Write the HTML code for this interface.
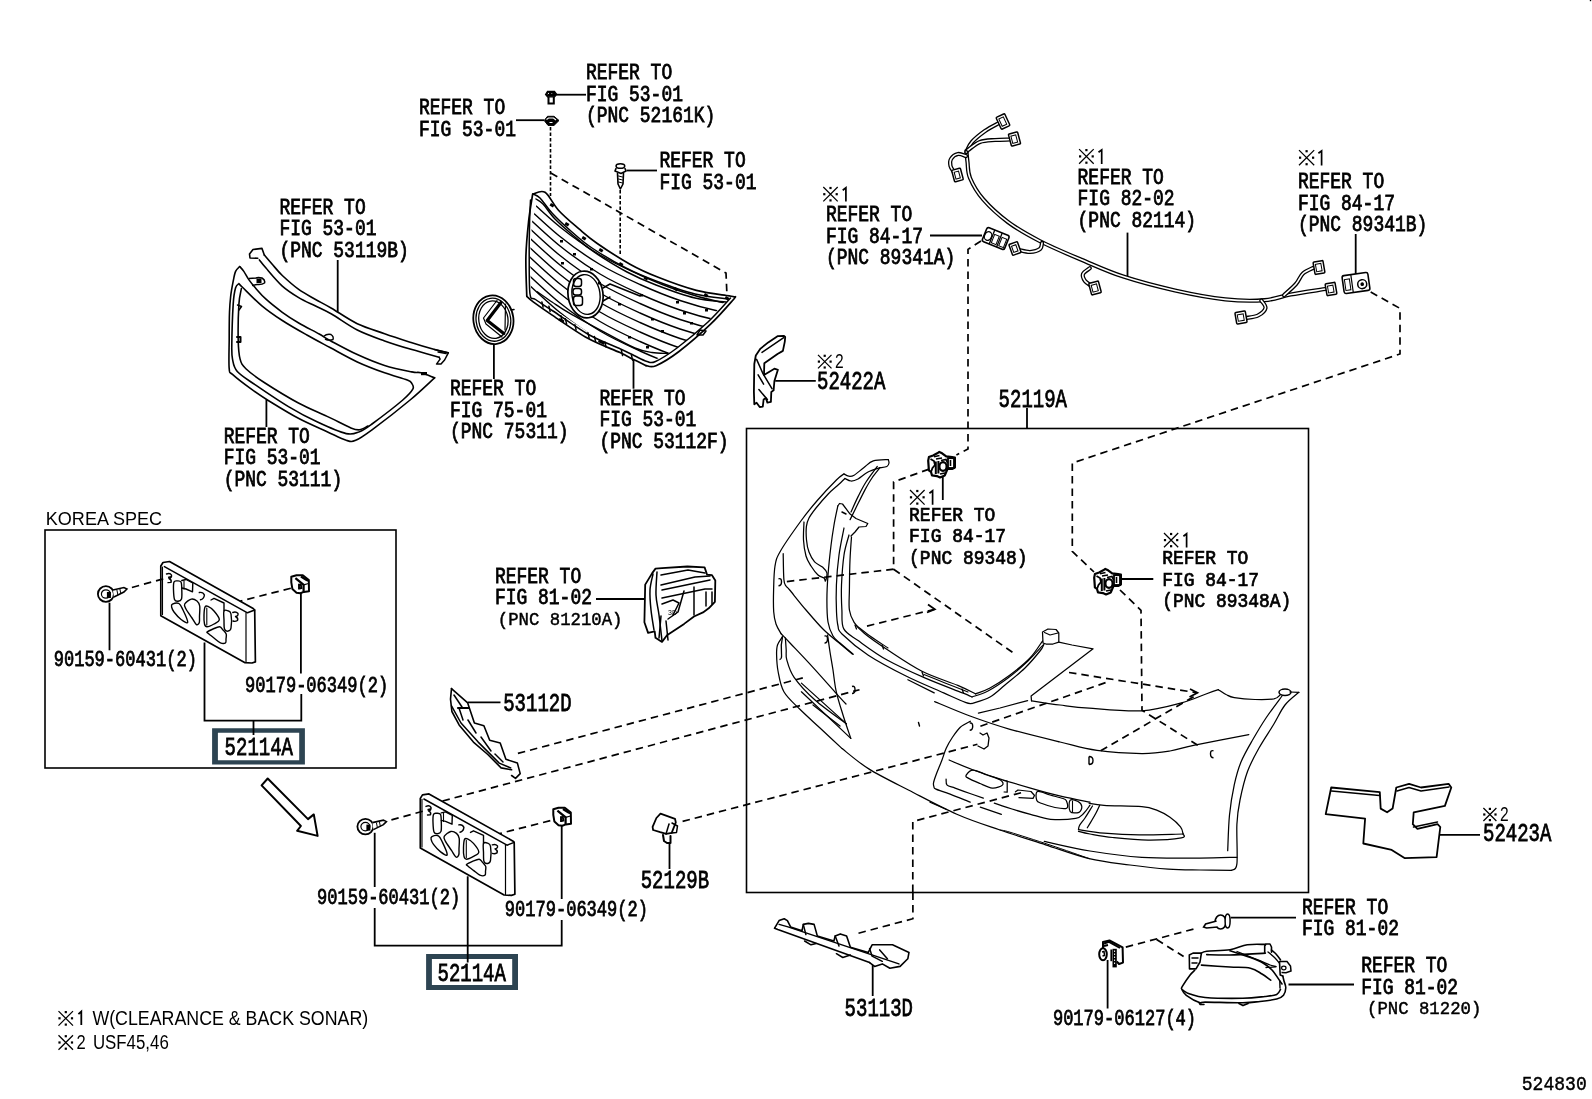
<!DOCTYPE html>
<html><head><meta charset="utf-8"><style>
html,body{margin:0;padding:0;background:#fff;overflow:hidden;width:1592px;height:1099px;}
svg{display:block;will-change:transform;}
.t{font-family:"Liberation Mono",monospace;fill:#000;stroke:#000;stroke-width:0.8px;}
.s{font-family:"Liberation Mono",monospace;fill:#000;stroke:#000;stroke-width:0.45px;}
.s2{font-family:"Liberation Mono",monospace;fill:#000;stroke:#000;stroke-width:0.45px;}
.kn{font-family:"Liberation Sans",sans-serif;fill:#000;}
.ks{font-family:"Liberation Sans",sans-serif;fill:#000;}
.ln{fill:none;stroke:#000;stroke-width:1.8;}
.ds{fill:none;stroke:#000;stroke-width:1.7;stroke-dasharray:7.5 5;}
.pt{fill:none;stroke:#000;stroke-width:1.5;stroke-linejoin:round;stroke-linecap:round;}
</style></head><body>
<svg width="1592" height="1099" viewBox="0 0 1592 1099">
<rect width="1592" height="1099" fill="#fff"/>
<text class="t" transform="translate(586.0,79.0) scale(0.835,1.000)" font-size="21.5"><tspan x="0" y="0">REFER TO</tspan><tspan x="0" dy="21.6">FIG 53-01</tspan><tspan x="0" dy="21.6">(PNC 52161K)</tspan></text>
<text class="t" transform="translate(419.0,114.0) scale(0.835,1.000)" font-size="21.5"><tspan x="0" y="0">REFER TO</tspan><tspan x="0" dy="21.6">FIG 53-01</tspan></text>
<text class="t" transform="translate(659.5,167.0) scale(0.835,1.000)" font-size="21.5"><tspan x="0" y="0">REFER TO</tspan><tspan x="0" dy="21.6">FIG 53-01</tspan></text>
<text class="t" transform="translate(279.5,213.7) scale(0.835,1.000)" font-size="21.5"><tspan x="0" y="0">REFER TO</tspan><tspan x="0" dy="21.6">FIG 53-01</tspan><tspan x="0" dy="21.6">(PNC 53119B)</tspan></text>
<text class="t" transform="translate(223.7,442.5) scale(0.835,1.000)" font-size="21.5"><tspan x="0" y="0">REFER TO</tspan><tspan x="0" dy="21.6">FIG 53-01</tspan><tspan x="0" dy="21.6">(PNC 53111)</tspan></text>
<text class="t" transform="translate(450.0,395.2) scale(0.835,1.000)" font-size="21.5"><tspan x="0" y="0">REFER TO</tspan><tspan x="0" dy="21.6">FIG 75-01</tspan><tspan x="0" dy="21.6">(PNC 75311)</tspan></text>
<text class="t" transform="translate(599.4,404.5) scale(0.835,1.000)" font-size="21.5"><tspan x="0" y="0">REFER TO</tspan><tspan x="0" dy="21.6">FIG 53-01</tspan><tspan x="0" dy="21.6">(PNC 53112F)</tspan></text>
<text class="t" transform="translate(826.0,221.0) scale(0.835,1.000)" font-size="21.5"><tspan x="0" y="0">REFER TO</tspan><tspan x="0" dy="21.6">FIG 84-17</tspan><tspan x="0" dy="21.6">(PNC 89341A)</tspan></text>
<text class="t" transform="translate(1077.6,183.7) scale(0.835,1.000)" font-size="21.5"><tspan x="0" y="0">REFER TO</tspan><tspan x="0" dy="21.6">FIG 82-02</tspan><tspan x="0" dy="21.6">(PNC 82114)</tspan></text>
<text class="t" transform="translate(1298.0,188.0) scale(0.835,1.000)" font-size="21.5"><tspan x="0" y="0">REFER TO</tspan><tspan x="0" dy="21.6">FIG 84-17</tspan><tspan x="0" dy="21.6">(PNC 89341B)</tspan></text>
<text class="t" transform="translate(909.1,520.6) scale(0.835,0.920)" font-size="21.5"><tspan x="0" y="0">REFER TO</tspan><tspan x="0" dy="23.5">FIG 84-17</tspan><tspan x="0" dy="23.5">(PNC 89348)</tspan></text>
<text class="t" transform="translate(1162.2,563.9) scale(0.835,0.920)" font-size="21.5"><tspan x="0" y="0">REFER TO</tspan><tspan x="0" dy="23.5">FIG 84-17</tspan><tspan x="0" dy="23.5">(PNC 89348A)</tspan></text>
<text class="t" transform="translate(495.0,582.8) scale(0.835,1.000)" font-size="21.5"><tspan x="0" y="0">REFER TO</tspan><tspan x="0" dy="21.6">FIG 81-02</tspan></text>
<text class="t" transform="translate(1302.0,913.8) scale(0.835,1.000)" font-size="21.5"><tspan x="0" y="0">REFER TO</tspan><tspan x="0" dy="21.6">FIG 81-02</tspan></text>
<text class="t" transform="translate(1361.2,972.3) scale(0.835,1.000)" font-size="21.5"><tspan x="0" y="0">REFER TO</tspan><tspan x="0" dy="21.6">FIG 81-02</tspan></text>
<path d="M823.3 187.0L837.7 201.4M837.7 187.0L823.3 201.4" stroke="#000" stroke-width="1.25" fill="none"/><rect x="829.4" y="186.9" width="2.2" height="2.2" fill="#000"/><rect x="829.4" y="199.3" width="2.2" height="2.2" fill="#000"/><rect x="823.2" y="193.1" width="2.2" height="2.2" fill="#000"/><rect x="835.6" y="193.1" width="2.2" height="2.2" fill="#000"/><path d="M842.7 190.2L845.9 187.8L845.9 201.6" stroke="#000" stroke-width="1.7" fill="none"/>
<path d="M1079.1 149.1L1093.7 163.7M1093.7 149.1L1079.1 163.7" stroke="#000" stroke-width="1.25" fill="none"/><rect x="1085.3" y="149.0" width="2.2" height="2.2" fill="#000"/><rect x="1085.3" y="161.6" width="2.2" height="2.2" fill="#000"/><rect x="1079.0" y="155.3" width="2.2" height="2.2" fill="#000"/><rect x="1091.6" y="155.3" width="2.2" height="2.2" fill="#000"/><path d="M1098.5 152.3L1101.7 149.9L1101.7 163.9" stroke="#000" stroke-width="1.7" fill="none"/>
<path d="M1299.0 150.1L1314.2 165.3M1314.2 150.1L1299.0 165.3" stroke="#000" stroke-width="1.25" fill="none"/><rect x="1305.5" y="150.1" width="2.2" height="2.2" fill="#000"/><rect x="1305.5" y="163.1" width="2.2" height="2.2" fill="#000"/><rect x="1299.0" y="156.6" width="2.2" height="2.2" fill="#000"/><rect x="1312.0" y="156.6" width="2.2" height="2.2" fill="#000"/><path d="M1318.4 153.3L1321.6 150.9L1321.6 165.5" stroke="#000" stroke-width="1.7" fill="none"/>
<path d="M910.0 490.0L924.6 504.6M924.6 490.0L910.0 504.6" stroke="#000" stroke-width="1.25" fill="none"/><rect x="916.2" y="489.9" width="2.2" height="2.2" fill="#000"/><rect x="916.2" y="502.5" width="2.2" height="2.2" fill="#000"/><rect x="909.9" y="496.2" width="2.2" height="2.2" fill="#000"/><rect x="922.5" y="496.2" width="2.2" height="2.2" fill="#000"/><path d="M929.4 493.2L932.6 490.8L932.6 504.8" stroke="#000" stroke-width="1.7" fill="none"/>
<path d="M1164.0 533.0L1178.2 547.2M1178.2 533.0L1164.0 547.2" stroke="#000" stroke-width="1.25" fill="none"/><rect x="1170.0" y="532.9" width="2.2" height="2.2" fill="#000"/><rect x="1170.0" y="545.1" width="2.2" height="2.2" fill="#000"/><rect x="1163.9" y="539.0" width="2.2" height="2.2" fill="#000"/><rect x="1176.1" y="539.0" width="2.2" height="2.2" fill="#000"/><path d="M1183.4 536.2L1186.6 533.8L1186.6 547.4" stroke="#000" stroke-width="1.7" fill="none"/>
<path d="M818.0 354.9L831.5 368.4M831.5 354.9L818.0 368.4" stroke="#000" stroke-width="1.25" fill="none"/><rect x="823.6" y="354.7" width="2.2" height="2.2" fill="#000"/><rect x="823.6" y="366.4" width="2.2" height="2.2" fill="#000"/><rect x="817.8" y="360.5" width="2.2" height="2.2" fill="#000"/><rect x="829.5" y="360.5" width="2.2" height="2.2" fill="#000"/><text class="kn" x="835.0" y="368.1" font-size="19.5" transform="translate(835.0,0) scale(0.8,1) translate(-835.0,0)">2</text>
<path d="M1483.4 808.0L1496.4 821.0M1496.4 808.0L1483.4 821.0" stroke="#000" stroke-width="1.25" fill="none"/><rect x="1488.8" y="807.8" width="2.2" height="2.2" fill="#000"/><rect x="1488.8" y="819.0" width="2.2" height="2.2" fill="#000"/><rect x="1483.2" y="813.4" width="2.2" height="2.2" fill="#000"/><rect x="1494.4" y="813.4" width="2.2" height="2.2" fill="#000"/><text class="kn" x="1499.9" y="820.7" font-size="19.5" transform="translate(1499.9,0) scale(0.8,1) translate(-1499.9,0)">2</text>
<text class="t" transform="translate(817.0,388.8) scale(0.745,1.000)" font-size="25.5"><tspan x="0" y="0">52422A</tspan></text>
<text class="t" transform="translate(998.6,406.9) scale(0.745,1.000)" font-size="25.5"><tspan x="0" y="0">52119A</tspan></text>
<text class="t" transform="translate(503.2,710.5) scale(0.745,1.000)" font-size="25.5"><tspan x="0" y="0">53112D</tspan></text>
<text class="t" transform="translate(640.7,888.2) scale(0.745,1.000)" font-size="25.5"><tspan x="0" y="0">52129B</tspan></text>
<text class="t" transform="translate(844.6,1016.1) scale(0.745,1.000)" font-size="25.5"><tspan x="0" y="0">53113D</tspan></text>
<text class="t" transform="translate(1483.0,841.0) scale(0.745,1.000)" font-size="25.5"><tspan x="0" y="0">52423A</tspan></text>
<text class="t" transform="translate(224.6,754.7) scale(0.745,1.000)" font-size="25.5"><tspan x="0" y="0">52114A</tspan></text>
<text class="t" transform="translate(437.5,980.5) scale(0.745,1.000)" font-size="25.5"><tspan x="0" y="0">52114A</tspan></text>
<text class="t" transform="translate(53.7,665.6) scale(0.775,1.000)" font-size="22.0"><tspan x="0" y="0">90159-60431(2)</tspan></text>
<text class="t" transform="translate(245.0,692.3) scale(0.775,1.000)" font-size="22.0"><tspan x="0" y="0">90179-06349(2)</tspan></text>
<text class="t" transform="translate(317.0,904.0) scale(0.775,1.000)" font-size="22.0"><tspan x="0" y="0">90159-60431(2)</tspan></text>
<text class="t" transform="translate(504.8,915.9) scale(0.775,1.000)" font-size="22.0"><tspan x="0" y="0">90179-06349(2)</tspan></text>
<text class="t" transform="translate(1052.9,1025.2) scale(0.775,1.000)" font-size="22.0"><tspan x="0" y="0">90179-06127(4)</tspan></text>
<text class="s" transform="translate(497.8,625.3) scale(0.990,1.000)" font-size="17.5"><tspan x="0" y="0">(PNC 81210A)</tspan></text>
<text class="s" transform="translate(1367.0,1014.2) scale(0.990,1.000)" font-size="17.5"><tspan x="0" y="0">(PNC 81220)</tspan></text>
<text class="s2" transform="translate(1521.8,1089.8) scale(0.880,1.000)" font-size="20.5"><tspan x="0" y="0">524830</tspan></text>
<text class="ks" x="0" y="0" font-size="19.2" transform="translate(45.8,524.7) scale(0.940,1)">KOREA SPEC</text>
<path d="M58.5 1011.1L73.0 1025.6M73.0 1011.1L58.5 1025.6" stroke="#000" stroke-width="1.25" fill="none"/><rect x="64.7" y="1011.0" width="2.2" height="2.2" fill="#000"/><rect x="64.7" y="1023.5" width="2.2" height="2.2" fill="#000"/><rect x="58.4" y="1017.2" width="2.2" height="2.2" fill="#000"/><rect x="70.9" y="1017.2" width="2.2" height="2.2" fill="#000"/>
<path d="M78.4 1014.2L81.3 1011.5L81.3 1025" stroke="#000" stroke-width="1.8" fill="none"/>
<text class="ks" x="0" y="0" font-size="19.5" transform="translate(92.4,1024.9) scale(0.913,1)">W(CLEARANCE &amp; BACK SONAR)</text>
<path d="M58.5 1035.2L73.0 1049.7M73.0 1035.2L58.5 1049.7" stroke="#000" stroke-width="1.25" fill="none"/><rect x="64.7" y="1035.1" width="2.2" height="2.2" fill="#000"/><rect x="64.7" y="1047.6" width="2.2" height="2.2" fill="#000"/><rect x="58.4" y="1041.4" width="2.2" height="2.2" fill="#000"/><rect x="70.9" y="1041.4" width="2.2" height="2.2" fill="#000"/>
<text class="ks" x="0" y="0" font-size="19.5" transform="translate(76.6,1049.1) scale(0.850,1)">2</text>
<text class="ks" x="0" y="0" font-size="19.5" transform="translate(92.9,1049.1) scale(0.865,1)">USF45,46</text>
<path class="ln" d="M556.6 94.7 L586 94.7"/>
<path class="ln" d="M516 120.2 L544 120.2"/>
<path class="ln" d="M626.6 170.5 L657 170.5"/>
<path class="ln" d="M337.7 260 L337.7 312"/>
<path class="ln" d="M266.4 399.7 L266.4 427"/>
<path class="ln" d="M493.9 344 L493.9 379"/>
<path class="ln" d="M633.5 359.5 L633.5 388.7"/>
<path class="ln" d="M930 235.5 L982 235.5"/>
<path class="ln" d="M1127.5 232.6 L1127.5 276.6"/>
<path class="ln" d="M1355.7 234 L1355.7 274"/>
<path class="ln" d="M775.2 380.8 L815.8 380.8"/>
<path class="ln" d="M1027 408 L1027 428"/>
<path class="ln" d="M942.8 475.5 L942.8 500"/>
<path class="ln" d="M1120.2 579 L1153.3 579"/>
<path class="ln" d="M596 599 L645 599"/>
<path class="ln" d="M467.7 702.4 L500.5 702.4"/>
<path class="ln" d="M1439.4 834.8 L1480 834.8"/>
<path class="ln" d="M669.5 843.7 L669.5 869"/>
<path class="ln" d="M872.7 965 L872.7 996"/>
<path class="ln" d="M1230.7 917.6 L1296 917.6"/>
<path class="ln" d="M1288.5 984.5 L1354 984.5"/>
<path class="ln" d="M1107.6 960 L1107.6 1008.5"/>
<path class="ln" d="M109.5 602.7 L109.5 650.3"/>
<path class="ln" d="M300.9 592.6 L300.9 673.5"/>
<path class="ln" d="M204.5 642.6 L204.5 720.6 L301.3 720.6 L301.3 694"/>
<path class="ln" d="M374.7 832.8 L374.7 887"/>
<path class="ln" d="M374.7 908 L374.7 945.7 L561.7 945.7 L561.7 920"/>
<path class="ln" d="M561.7 822 L561.7 899"/>
<path class="ds" d="M550.8 173 L726 273 L727 296"/>
<path class="ds" d="M981 241 L968 249.4 L968 449 L956.4 455"/>
<path class="ds" d="M929.1 469.1 L893.6 481.9 L893.6 569.2 L782 582.1"/>
<path class="ds" d="M893.6 569.2 L1016.3 655"/>
<path class="ds" d="M867 626.1 L934.8 609.2"/>
<path class="ds" d="M1370.7 292 L1400 308.4 L1400 354 L1072.3 463 L1072.3 551.4 L1094 572"/>
<path class="ds" d="M1120 590 L1141 610.4 L1142 710.3 L1201 747.3"/>
<path class="ds" d="M517.9 753.4 L802.8 677.9"/>
<path class="ds" d="M442.5 801 L859.5 689.7"/>
<path class="ds" d="M682.6 821.4 L977.4 744.3"/>
<path class="ds" d="M980.4 726.2 L1109.5 681.3"/>
<path class="ds" d="M1069 672.5 L1197.4 692.8"/>
<path class="ds" d="M1100.7 750.8 L1197.4 694.5"/>
<path class="ds" d="M912.8 892 L912.8 821.5 L1022.3 792.4"/>
<path class="ds" d="M912.9 892.5 L912.9 918.7 L855.5 934"/>
<path class="ds" d="M131.9 587.5 L170.9 576.7"/>
<path class="ds" d="M290.8 588.2 L240.2 601.2"/>
<path class="ds" d="M391.4 819.9 L430.4 809.1"/>
<path class="ds" d="M550.3 820.6 L499.7 833.6"/>
<path class="ds" d="M1125.8 947.1 L1196.8 928.2"/>
<path class="ds" d="M1156.6 939.5 L1183.6 956.5"/>
<path class="ds" d="M550.5 127 L550.5 196" style="stroke-dasharray:3.5 2;stroke-width:1.6"/>
<path class="ds" d="M620.2 190 L620.2 256" style="stroke-dasharray:3.5 2;stroke-width:1.6"/>
<path class="ln" d="M928 604.5 L934.8 609.2 L927 612.5"/>
<path class="ln" d="M1190 689 L1197.4 692.8 L1189.5 697"/>
<path class="pt" d="M267.7 778.5 L261.6 785.4 L300.9 826 L297.1 830.8 L317.6 835.9 L313.8 814.4 L308 819.1Z" style="stroke-width:2"/>
<path class="pt" d="M1331.2 787.5 L1379.8 792.1 L1380.7 808.6 L1387.1 812.3 L1392.6 808.6 L1396.3 787.5 L1409.1 783.8 L1421 787.5 L1448.6 783.8 L1451.3 787.5 L1444.9 805.9 L1413.7 812.3 L1412.8 824.2 L1417.4 828.8 L1437.6 824.2 L1440.3 827 L1436.6 857.2 L1404.5 858.1 L1391.7 849.9 L1363.3 843.5 L1365.1 818.7 L1325.7 814.1Z" style="stroke-width:1.8"/>
<path class="pt" d="M1331.5 791 L1379.5 795.5"/>
<path class="pt" d="M1397 791 L1409 787.5 L1421 791 L1449 787"/>
<path class="pt" d="M1413.5 827 L1437.5 822"/>
<path class="pt" d="M754.3 364 L755.8 355.5 L760.5 348.6 L768.2 342.4 L777.5 336.2 L783.7 335.8 L785.2 337 L784.8 341.6 L782.9 350.9 L777.5 354 L764.3 363.3 L764 374.9 L774.4 368.7 L777.9 369.8 L774.4 381 L773.6 390.3 L771.3 391.9 L770.9 401.9 L767.4 402.7 L765.9 398.1 L763.6 399.6 L762.8 406.6 L759.7 407 L756.6 402.7 L754.3 404.2 L753.9 391.9Z" style="stroke-width:1.8"/>
<path class="pt" d="M756.6 359.4 L762.8 373.3 L772.1 388.8"/>
<path class="pt" d="M758.1 374.9 L763.6 384.1"/>
<path class="pt" d="M758.9 389.6 L767.4 399.6"/>
<path class="pt" d="M762 352.4 L783.7 337.7"/>
<defs><clipPath id="gclip"><path d="M537 203 L548 205 L562 220 L581 236 L599 250 L632 270 L660 283 L697 295 L726 300 L706 324 L676 349 L655 360 L647 360 L620 347 L588 332 L553 309 L537 298 L531 292 L530 256 L532 222Z"/></clipPath></defs>
<path class="pt" d="M533 194C535 193.7 540.7 189.6 545 192.3C549.3 195.1 553.1 204.4 558.7 210.5C564.3 216.6 572.3 223.2 578.7 228.7C585.1 234.1 588.4 237.3 596.9 243.2C605.4 249.1 619.8 258.5 630 264.2C640.2 269.9 647.1 272.9 658.2 277.3C669.3 281.7 684.6 287.3 696.4 290.4C708.2 293.5 722.8 294.8 729.2 295.9C735.6 297 733.7 296.8 734.6 297" style="stroke-width:1.7"/>
<path class="pt" d="M734.6 297C734.4 297.4 737.5 295 733.5 299.5C729.5 304 719.7 315.5 710.6 324.2C701.5 332.9 688.1 344.6 679 351.5C669.9 358.4 661.5 363.3 656 365.7C650.5 368.1 647.8 365.7 646.2 365.7" style="stroke-width:1.7"/>
<path class="pt" d="M646.2 365.7C644 364.6 637.4 361.4 633 359.2C628.6 357 627.5 356.1 620 352.6C612.5 349.1 599.2 344.6 587.8 338.3C576.4 332 560.5 320.7 551.4 314.6C542.3 308.5 537.3 304.9 533.2 301.9C529.1 298.9 527.9 297.3 526.8 296.4" style="stroke-width:1.7"/>
<path class="pt" d="M526.8 296.4C526.6 289.7 525.6 268.9 525.9 256.4C526.2 243.9 527.5 231.8 528.6 221.4C529.7 211 532 198.6 532.7 194" style="stroke-width:1.7"/>
<path class="pt" d="M530.5 200C530.4 203.7 529.8 212.7 529.6 222C529.4 231.3 529.1 244 529.2 256C529.3 268 529 286.8 530 294C531 301.2 531.7 296.7 535.5 299.5C539.3 302.3 544.2 305.2 553 311C561.8 316.8 577.2 328.2 588.5 334.5C599.8 340.8 612.9 345.5 620.5 349C628.1 352.5 629.6 353.4 634 355.5C638.4 357.6 643.4 360.5 647 361.5C650.6 362.5 650.5 363.8 655.5 361.5C660.5 359.2 668.2 354.6 677 348C685.8 341.4 699.1 330.3 708 322C716.9 313.7 726.8 302 730.5 298"/>
<path class="pt" d="M533 194C534.2 194.7 536.8 194.8 540 198C543.2 201.2 546.7 207.3 552 213C557.3 218.7 565.3 226.2 572 232C578.7 237.8 583 242 592 248C601 254 615.3 262.5 626 268C636.7 273.5 644.5 276.7 656 281C667.5 285.3 683 291 695 294C707 297 722.5 298.2 728 299"/>
<path class="pt" d="M536 199C537.2 199.8 539.8 200.7 543 204C546.2 207.3 549.7 213.5 555 219C560.3 224.5 568.5 231.5 575 237C581.5 242.5 585.3 246.2 594 252C602.7 257.8 616.7 266.5 627 272C637.3 277.5 644.7 280.7 656 285C667.3 289.3 683.3 295.2 695 298C706.7 300.8 720.8 301.3 726 302"/>
<g clip-path="url(#gclip)"><path class="pt" d="M505 177C507.5 179.3 510.8 182.7 520 191C529.2 199.3 546.7 216.3 560 227C573.3 237.7 586.7 247 600 255C613.3 263 626.7 269 640 275C653.3 281 666.7 286.5 680 291C693.3 295.5 706.7 299.2 720 302C733.3 304.8 753.3 307 760 308" style="stroke-width:1.4"/><path class="pt" d="M505 186.5C507.5 188.8 510.8 192.2 520 200.5C529.2 208.8 546.7 225.8 560 236.5C573.3 247.2 586.7 256.5 600 264.5C613.3 272.5 626.7 278.5 640 284.5C653.3 290.5 666.7 296 680 300.5C693.3 305 706.7 308.7 720 311.5C733.3 314.3 753.3 316.5 760 317.5" style="stroke-width:1.4"/><path class="pt" d="M505 196C507.5 198.3 510.8 201.7 520 210C529.2 218.3 546.7 235.3 560 246C573.3 256.7 586.7 266 600 274C613.3 282 626.7 288 640 294C653.3 300 666.7 305.5 680 310C693.3 314.5 706.7 318.2 720 321C733.3 323.8 753.3 326 760 327" style="stroke-width:1.4"/><path class="pt" d="M505 205.5C507.5 207.8 510.8 211.2 520 219.5C529.2 227.8 546.7 244.8 560 255.5C573.3 266.2 586.7 275.5 600 283.5C613.3 291.5 626.7 297.5 640 303.5C653.3 309.5 666.7 315 680 319.5C693.3 324 706.7 327.7 720 330.5C733.3 333.3 753.3 335.5 760 336.5" style="stroke-width:1.4"/><path class="pt" d="M505 215C507.5 217.3 510.8 220.7 520 229C529.2 237.3 546.7 254.3 560 265C573.3 275.7 586.7 285 600 293C613.3 301 626.7 307 640 313C653.3 319 666.7 324.5 680 329C693.3 333.5 706.7 337.2 720 340C733.3 342.8 753.3 345 760 346" style="stroke-width:1.4"/><path class="pt" d="M505 224.5C507.5 226.8 510.8 230.2 520 238.5C529.2 246.8 546.7 263.8 560 274.5C573.3 285.2 586.7 294.5 600 302.5C613.3 310.5 626.7 316.5 640 322.5C653.3 328.5 666.7 334 680 338.5C693.3 343 706.7 346.7 720 349.5C733.3 352.3 753.3 354.5 760 355.5" style="stroke-width:1.4"/><path class="pt" d="M505 234C507.5 236.3 510.8 239.7 520 248C529.2 256.3 546.7 273.3 560 284C573.3 294.7 586.7 304 600 312C613.3 320 626.7 326 640 332C653.3 338 666.7 343.5 680 348C693.3 352.5 706.7 356.2 720 359C733.3 361.8 753.3 364 760 365" style="stroke-width:1.4"/><path class="pt" d="M505 243.5C507.5 245.8 510.8 249.2 520 257.5C529.2 265.8 546.7 282.8 560 293.5C573.3 304.2 586.7 313.5 600 321.5C613.3 329.5 626.7 335.5 640 341.5C653.3 347.5 666.7 353 680 357.5C693.3 362 706.7 365.7 720 368.5C733.3 371.3 753.3 373.5 760 374.5" style="stroke-width:1.4"/><path class="pt" d="M505 253C507.5 255.3 510.8 258.7 520 267C529.2 275.3 546.7 292.3 560 303C573.3 313.7 586.7 323 600 331C613.3 339 626.7 345 640 351C653.3 357 666.7 362.5 680 367C693.3 371.5 706.7 375.2 720 378C733.3 380.8 753.3 383 760 384" style="stroke-width:1.4"/><path class="pt" d="M505 262.5C507.5 264.8 510.8 268.2 520 276.5C529.2 284.8 546.7 301.8 560 312.5C573.3 323.2 586.7 332.5 600 340.5C613.3 348.5 626.7 354.5 640 360.5C653.3 366.5 666.7 372 680 376.5C693.3 381 706.7 384.7 720 387.5C733.3 390.3 753.3 392.5 760 393.5" style="stroke-width:1.4"/><path class="pt" d="M505 272C507.5 274.3 510.8 277.7 520 286C529.2 294.3 546.7 311.3 560 322C573.3 332.7 586.7 342 600 350C613.3 358 626.7 364 640 370C653.3 376 666.7 381.5 680 386C693.3 390.5 706.7 394.2 720 397C733.3 399.8 753.3 402 760 403" style="stroke-width:1.4"/></g>
<ellipse cx="585.5" cy="294.5" rx="17.5" ry="23.5" transform="rotate(-8 585.5 294.5)" fill="#fff" stroke="#000" stroke-width="1.7"/>
<ellipse cx="586" cy="294.5" rx="14" ry="20" transform="rotate(-8 586 294.5)" fill="none" stroke="#000" stroke-width="1.4"/>
<rect x="573.5" y="278.5" width="8" height="8" rx="2.5" fill="none" stroke="#000" stroke-width="1.5"/>
<rect x="573" y="288.5" width="8.5" height="6.5" rx="2.5" fill="none" stroke="#000" stroke-width="1.5"/>
<rect x="573.5" y="296" width="9" height="9.5" rx="2.5" fill="none" stroke="#000" stroke-width="1.5"/>
<path class="pt" d="M603 288 L610 284 L640 296"/>
<path class="pt" d="M603 301 L610 297"/>
<rect x="551.0" y="203.0" width="4" height="3" fill="#000" transform="rotate(30 551.0 203.0)"/>
<rect x="566.0" y="222.0" width="4" height="3" fill="#000" transform="rotate(30 566.0 222.0)"/>
<rect x="583.0" y="236.0" width="4" height="3" fill="#000" transform="rotate(30 583.0 236.0)"/>
<rect x="600.0" y="248.0" width="4" height="3" fill="#000" transform="rotate(30 600.0 248.0)"/>
<rect x="620.0" y="262.0" width="4" height="3" fill="#000" transform="rotate(30 620.0 262.0)"/>
<rect x="645.0" y="276.0" width="4" height="3" fill="#000" transform="rotate(30 645.0 276.0)"/>
<rect x="675.0" y="287.0" width="4" height="3" fill="#000" transform="rotate(30 675.0 287.0)"/>
<rect x="705.0" y="293.0" width="4" height="3" fill="#000" transform="rotate(30 705.0 293.0)"/>
<rect x="726.0" y="296.0" width="4" height="3" fill="#000" transform="rotate(30 726.0 296.0)"/>
<rect x="560.0" y="240.0" width="3" height="2.5" fill="#000"/>
<rect x="573.0" y="253.0" width="3" height="2.5" fill="#000"/>
<rect x="561.0" y="262.0" width="3" height="2.5" fill="#000"/>
<rect x="590.0" y="268.0" width="3" height="2.5" fill="#000"/>
<rect x="598.0" y="282.0" width="3" height="2.5" fill="#000"/>
<rect x="618.0" y="303.0" width="3" height="2.5" fill="#000"/>
<rect x="640.0" y="294.0" width="3" height="2.5" fill="#000"/>
<rect x="651.0" y="318.0" width="3" height="2.5" fill="#000"/>
<rect x="661.0" y="330.0" width="3" height="2.5" fill="#000"/>
<rect x="676.0" y="301.0" width="3" height="2.5" fill="#000"/>
<rect x="683.0" y="312.0" width="3" height="2.5" fill="#000"/>
<rect x="690.0" y="322.0" width="3" height="2.5" fill="#000"/>
<rect x="705.0" y="309.0" width="3" height="2.5" fill="#000"/>
<rect x="628.0" y="336.0" width="3" height="2.5" fill="#000"/>
<rect x="646.0" y="346.0" width="3" height="2.5" fill="#000"/>
<path class="pt" d="M537.3 291.8C539.8 293.5 546.7 298.5 552 302C557.3 305.5 560.3 307.9 569 312.9C577.7 317.9 593.2 326.3 604.2 332.2C615.2 338.1 626.9 344.6 634.9 348C642.9 351.4 646.5 351.6 652 352.5C657.5 353.4 665.3 353.3 668 353.5" style="stroke-width:1.4"/>
<path class="pt" d="M541.9 301.9 L543.1 307.1" style="stroke-width:1.5"/>
<path class="pt" d="M548.9 306.2 L550.1 311.4" style="stroke-width:1.5"/>
<path class="pt" d="M560.9 315.7 L562.1 320.9" style="stroke-width:1.5"/>
<path class="pt" d="M565.4 318.7 L566.6 323.9" style="stroke-width:1.5"/>
<path class="pt" d="M574.9 324.7 L576.1 329.9" style="stroke-width:1.5"/>
<path class="pt" d="M587.9 332.7 L589.1 337.9" style="stroke-width:1.5"/>
<path class="pt" d="M594.4 336.4 L595.6 341.6" style="stroke-width:1.5"/>
<path class="pt" d="M604.9 341.9 L606.1 347.1" style="stroke-width:1.5"/>
<path class="pt" d="M621.4 350.4 L622.6 355.6" style="stroke-width:1.5"/>
<path class="pt" d="M631.4 355 L632.6 360.2" style="stroke-width:1.5"/>
<path d="M559.5 318 l5 2.5 l-1 2.5 l-5 -2.5 Z M599 339.5 l6 3 l-1 2.5 l-6 -3 Z" fill="#000"/>
<path class="pt" d="M700 330 L706 331 L703 335 L697 335Z"/>
<path class="pt" d="M264.3 255C265.6 256.5 269 260.6 272 264C275 267.4 277.9 271.3 282.3 275.5C286.8 279.7 293.2 285.4 298.7 289.4C304.2 293.3 309.6 296.1 315.1 299.2C320.6 302.3 324.5 304.1 331.5 308.2C338.5 312.3 348.4 319.4 357.3 323.7C366.2 327.9 375.5 330.5 384.6 333.7C393.7 336.9 403.6 340.1 411.9 342.8C420.2 345.5 428.5 347.9 434.6 349.6C440.7 351.3 446 352.3 448.3 352.8" style="stroke-width:1.6"/>
<path class="pt" d="M259.4 259.9C260.5 261.3 262.2 263.7 266 268.1C269.8 272.5 276.9 281.2 282.3 286.1C287.8 291 293.2 294.3 298.7 297.6C304.2 300.9 309.6 303.1 315.1 305.8C320.6 308.5 324.5 310 331.5 314C338.5 318 348.4 325.5 357.3 330C366.2 334.5 375.5 337.6 384.6 340.9C393.7 344.2 402.8 346.9 411.9 349.6C421 352.3 434.6 356 439.2 357.3" style="stroke-width:1.6"/>
<path class="pt" d="M257.8 258.3 L250 258 L249.5 254 L253 249.5 L262 248.4 L264.3 255" style="stroke-width:1.6"/>
<path class="pt" d="M434.6 349.6 L448.3 352.8 L444.6 360 L441 364.1 L436.5 364.1 L440.1 359.1 L439.2 357.3" style="stroke-width:1.5"/>
<path class="pt" d="M438 352 L446 353.5"/>
<path class="pt" d="M239.7 266.5C239 267.3 236.7 268.9 235.6 271.4C234.5 273.8 234 277.1 233.2 281.2C232.4 285.3 231.3 290.8 230.7 296C230.1 301.2 229.8 305 229.5 312.3C229.2 319.6 229.2 330.6 229.2 340C229.1 349.4 228.6 363 229.2 368.7C229.8 374.4 228.9 371.1 232.5 374.4C236.1 377.7 244.8 384.4 250.7 388.7C256.6 393 259.9 395.3 267.8 400.2C275.8 405.1 288.5 413.1 298.4 418.3C308.3 423.6 319.1 428 327.1 431.7C335.1 435.4 341.4 438.9 346.2 440.3C351 441.7 351.4 442.1 355.7 440.3C360 438.6 362.9 436.5 372 429.8C381.1 423.1 399.7 408.7 410.1 400C420.5 391.3 430.5 381.5 434.6 377.8" style="stroke-width:1.6"/>
<path class="pt" d="M239.7 266.5C240.4 267.3 242.3 269.2 243.8 271.4C245.3 273.6 246.9 276.9 248.8 279.6C250.7 282.3 252.4 284.5 255.3 287.8C258.2 291.1 261.5 295.1 266 299.2C270.5 303.3 276.9 308.3 282.3 312.3C287.8 316.3 292.6 319.4 298.7 323C304.8 326.6 314 331.1 319.2 334C324.4 336.9 323.6 337.1 330 340.5C336.4 343.9 348.2 350.4 357.3 354.6C366.4 358.8 375.5 362.6 384.6 365.5C393.7 368.4 405.8 370.7 411.9 371.9C418 373.1 417.2 371.8 421 372.8C424.8 373.8 432.3 377 434.6 377.8" style="stroke-width:1.6"/>
<path class="pt" d="M238.9 283.7C238.3 284.4 236.6 284.4 235.6 287.8C234.6 291.2 233.8 294.6 233.2 304.1C232.6 313.6 231.9 335.8 231.8 345C231.7 354.2 231.6 354.7 232.5 359.1C233.4 363.5 233.5 367.2 237.3 371.5C241.1 375.8 246.8 379 255.4 384.9C264 390.8 278.5 400.7 288.9 406.9C299.2 413.1 307.9 417.7 317.5 422.1C327.1 426.6 339.2 432 346.2 433.6C353.2 435.2 355.2 433.3 359.5 431.7C363.8 430.1 364.8 429.3 372 424C379.2 418.7 396 405.8 402.8 400C409.6 394.2 411.3 391.9 412.8 389.2C414.3 386.5 412.8 385.2 411.9 383.7C411 382.2 411.9 381.9 407.3 380.1C402.8 378.3 392.9 375.8 384.6 372.8C376.3 369.8 366.4 366.1 357.3 361.9C348.2 357.7 338.4 352 330 347.5C321.6 343 314.8 339.5 306.9 335C298.9 330.5 289.8 325.4 282.3 320.5C274.8 315.6 268.4 311.2 261.9 305.8C255.3 300.4 246.8 291.5 243 287.8C239.2 284.1 239.6 284.4 238.9 283.7" style="stroke-width:1.6"/>
<path class="pt" d="M241.4 288.5C241 291.1 239.4 295.5 238.9 304.1C238.4 312.7 238 330.8 238.2 340C238.4 349.2 238.8 354.3 240.1 359.1C241.4 363.9 241.8 364.7 245.9 368.7C250.1 372.7 256.2 377.3 265 383C273.8 388.7 288 397.4 298.4 403C308.8 408.6 318.4 412.2 327.1 416.4C335.9 420.5 345.5 425.7 350.9 427.9C356.3 430.1 356.6 430.1 359.5 429.8C362.4 429.5 366.6 426.6 368 426" style="stroke-width:1.6"/>
<path d="M249 278.5 L256 278 Q258 277 262 278 Q265.5 280 264.5 283 Q262 285 257 284.5 L252 285.5" fill="none" stroke="#000" stroke-width="1.5"/>
<rect x="256.5" y="278.5" width="5" height="4.5" fill="#000"/>
<path d="M323.5 336.5 Q327 333.5 331 334.5 Q334 336.5 333 339.5 Q329 341 325 339" fill="none" stroke="#000" stroke-width="1.4"/>
<rect x="421" y="372" width="6" height="3.2" fill="#000"/>
<path class="pt" d="M237.5 305 L241.5 306.5 L239 310"/>
<path class="pt" d="M237 337 L240.5 337 L240.5 342 L237 342" style="stroke-width:2"/>
<ellipse cx="493.4" cy="319.7" rx="20" ry="24.4" transform="rotate(-8 493.4 319.7)" fill="none" stroke="#000" stroke-width="1.8"/>
<ellipse cx="493.4" cy="319.7" rx="17.3" ry="21.6" transform="rotate(-8 493.4 319.7)" fill="none" stroke="#000" stroke-width="1.3"/>
<ellipse cx="493.4" cy="319.7" rx="14.6" ry="18.8" transform="rotate(-8 493.4 319.7)" fill="none" stroke="#000" stroke-width="1.3"/>
<path class="pt" d="M501 302.5 L487.2 320.5 L503.8 333.5" style="stroke-width:3.2"/>
<path class="pt" d="M497 300.5 L483.5 318 L486 324 L502 337" style="stroke-width:1.2"/>
<path class="pt" d="M505.5 304 L505 330" style="stroke-width:1.2"/>
<path class="pt" d="M511 310 L514 309.5"/>
<path d="M545.5 94.5 L547.5 91.4 L554.5 91.4 L556.8 94.5 L554.5 96.8 L547.5 96.8 Z" fill="#000" stroke="#000" stroke-width="1.2"/>
<path d="M547.8 94 L549 93 M551.5 93.2 L552 93.8" stroke="#fff" stroke-width="1"/>
<path d="M548.5 97 L548.5 103.6 L553.8 103.6 L553.8 97" fill="none" stroke="#000" stroke-width="2"/>
<rect x="550" y="98.5" width="2" height="3.5" fill="#fff"/>
<path d="M544.2 120.5 L547.5 116.3 L554 116.3 L559 120.5 L554 125.4 L548 125.4 Z" fill="#000" stroke="#000" stroke-width="1"/>
<path d="M546.5 119.5 L548.5 118 L553.5 118 L556 120 M549.5 122.5 L552.5 122.5" fill="none" stroke="#fff" stroke-width="1.1"/>
<ellipse cx="620.4" cy="166" rx="4.3" ry="2.3" fill="none" stroke="#000" stroke-width="1.6"/>
<path class="pt" d="M616 168.5 L615 171 L621 173.5 L626 171 L625 168.5" style="stroke-width:1.6"/>
<path class="pt" d="M617.5 173.5 L618 184 L620.4 189 L623 184 L623.5 173.5" style="stroke-width:1.6"/>
<path class="pt" d="M618.5 176 L622.5 177" style="stroke-width:1"/>
<path class="pt" d="M618.5 179 L622.5 180" style="stroke-width:1"/>
<path class="pt" d="M618.5 182 L622.5 183" style="stroke-width:1"/>
<path d="M966.4 151C966.6 152.8 966.9 157.5 967.5 162C968.1 166.5 967.4 171.8 970 178C972.6 184.2 976.7 191.8 983.1 199.2C989.5 206.6 998.8 215.2 1008.2 222.2C1017.6 229.2 1027.4 234.7 1039.6 241C1051.8 247.3 1067.5 253.9 1081.5 259.8C1095.5 265.7 1107.7 271.5 1123.3 276.6C1138.9 281.7 1158 286.7 1175 290.5C1192 294.3 1210.4 297.8 1225.3 299.4C1240.2 301 1253.6 301 1264.5 300.2C1275.4 299.4 1280.4 296.4 1290.7 294.5C1301 292.6 1320.6 289.8 1326.6 288.8" fill="none" stroke="#000" stroke-width="4.2" stroke-linecap="round"/>
<path d="M966.4 151C966.6 152.8 966.9 157.5 967.5 162C968.1 166.5 967.4 171.8 970 178C972.6 184.2 976.7 191.8 983.1 199.2C989.5 206.6 998.8 215.2 1008.2 222.2C1017.6 229.2 1027.4 234.7 1039.6 241C1051.8 247.3 1067.5 253.9 1081.5 259.8C1095.5 265.7 1107.7 271.5 1123.3 276.6C1138.9 281.7 1158 286.7 1175 290.5C1192 294.3 1210.4 297.8 1225.3 299.4C1240.2 301 1253.6 301 1264.5 300.2C1275.4 299.4 1280.4 296.4 1290.7 294.5C1301 292.6 1320.6 289.8 1326.6 288.8" fill="none" stroke="#fff" stroke-width="1.6" stroke-linecap="round"/>
<path d="M966.4 152C967.3 150.3 968.9 145.5 972 142C975.1 138.5 980.5 134.2 985 131C989.5 127.8 996.7 124.3 999 123" fill="none" stroke="#000" stroke-width="4.2" stroke-linecap="round"/>
<path d="M966.4 152C967.3 150.3 968.9 145.5 972 142C975.1 138.5 980.5 134.2 985 131C989.5 127.8 996.7 124.3 999 123" fill="none" stroke="#fff" stroke-width="1.6" stroke-linecap="round"/>
<path d="M968 150C970 148.7 975.5 143.7 980 142C984.5 140.3 990 140.4 995 140C1000 139.6 1007.5 139.6 1010 139.5" fill="none" stroke="#000" stroke-width="4.2" stroke-linecap="round"/>
<path d="M968 150C970 148.7 975.5 143.7 980 142C984.5 140.3 990 140.4 995 140C1000 139.6 1007.5 139.6 1010 139.5" fill="none" stroke="#fff" stroke-width="1.6" stroke-linecap="round"/>
<path d="M966 156C964.7 155.7 960.5 153.5 958 154C955.5 154.5 952.2 157 951 159C949.8 161 950 163.8 950.5 166C951 168.2 953.4 171 954 172" fill="none" stroke="#000" stroke-width="4.2" stroke-linecap="round"/>
<path d="M966 156C964.7 155.7 960.5 153.5 958 154C955.5 154.5 952.2 157 951 159C949.8 161 950 163.8 950.5 166C951 168.2 953.4 171 954 172" fill="none" stroke="#fff" stroke-width="1.6" stroke-linecap="round"/>
<path d="M1284 295.3C1286 293.4 1292.8 287.6 1296 284C1299.2 280.4 1300 276.2 1303 273.5C1306 270.8 1312.2 268.5 1314 267.5" fill="none" stroke="#000" stroke-width="4.2" stroke-linecap="round"/>
<path d="M1284 295.3C1286 293.4 1292.8 287.6 1296 284C1299.2 280.4 1300 276.2 1303 273.5C1306 270.8 1312.2 268.5 1314 267.5" fill="none" stroke="#fff" stroke-width="1.6" stroke-linecap="round"/>
<path d="M1261.3 300.5C1262 301.8 1266 305.5 1265.5 308C1265 310.5 1261.2 313.8 1258 315.5C1254.8 317.2 1248 317.6 1246 318" fill="none" stroke="#000" stroke-width="4.2" stroke-linecap="round"/>
<path d="M1261.3 300.5C1262 301.8 1266 305.5 1265.5 308C1265 310.5 1261.2 313.8 1258 315.5C1254.8 317.2 1248 317.6 1246 318" fill="none" stroke="#fff" stroke-width="1.6" stroke-linecap="round"/>
<path d="M1019 250C1020.8 250.3 1026.5 252.2 1030 252C1033.5 251.8 1038 250.5 1040 249C1042 247.5 1041.7 244 1042 243" fill="none" stroke="#000" stroke-width="4.2" stroke-linecap="round"/>
<path d="M1019 250C1020.8 250.3 1026.5 252.2 1030 252C1033.5 251.8 1038 250.5 1040 249C1042 247.5 1041.7 244 1042 243" fill="none" stroke="#fff" stroke-width="1.6" stroke-linecap="round"/>
<path d="M1089.8 268.2C1088.7 269.2 1083.8 271.9 1083 274C1082.2 276.1 1083.7 279.1 1085 281C1086.3 282.9 1090 284.8 1091 285.5" fill="none" stroke="#000" stroke-width="4.2" stroke-linecap="round"/>
<path d="M1089.8 268.2C1088.7 269.2 1083.8 271.9 1083 274C1082.2 276.1 1083.7 279.1 1085 281C1086.3 282.9 1090 284.8 1091 285.5" fill="none" stroke="#fff" stroke-width="1.6" stroke-linecap="round"/>
<g transform="translate(1003 121.5) rotate(-25)"><rect x="-4.75" y="-6.5" width="9.5" height="13" rx="1" fill="#fff" stroke="#000" stroke-width="1.5"/><rect x="-2.75" y="-4.0" width="5.0" height="8" fill="none" stroke="#000" stroke-width="1"/></g>
<g transform="translate(1014.5 139) rotate(-15)"><rect x="-4.75" y="-6.25" width="9.5" height="12.5" rx="1" fill="#fff" stroke="#000" stroke-width="1.5"/><rect x="-2.75" y="-3.75" width="5.0" height="7.5" fill="none" stroke="#000" stroke-width="1"/></g>
<g transform="translate(957.5 175) rotate(-15)"><rect x="-4.5" y="-6.0" width="9" height="12" rx="1" fill="#fff" stroke="#000" stroke-width="1.5"/><rect x="-2.5" y="-3.5" width="4.5" height="7" fill="none" stroke="#000" stroke-width="1"/></g>
<g transform="translate(1319 267.5) rotate(-10)"><rect x="-5.0" y="-6.25" width="10" height="12.5" rx="1" fill="#fff" stroke="#000" stroke-width="1.5"/><rect x="-3.0" y="-3.75" width="5.5" height="7.5" fill="none" stroke="#000" stroke-width="1"/></g>
<g transform="translate(1331 289) rotate(-10)"><rect x="-5.0" y="-6.0" width="10" height="12" rx="1" fill="#fff" stroke="#000" stroke-width="1.5"/><rect x="-3.0" y="-3.5" width="5.5" height="7" fill="none" stroke="#000" stroke-width="1"/></g>
<g transform="translate(1241 317.5) rotate(-10)"><rect x="-5.25" y="-5.75" width="10.5" height="11.5" rx="1" fill="#fff" stroke="#000" stroke-width="1.5"/><rect x="-3.25" y="-3.25" width="6.0" height="6.5" fill="none" stroke="#000" stroke-width="1"/></g>
<g transform="translate(1015 248.5) rotate(-20)"><rect x="-4.5" y="-5.75" width="9" height="11.5" rx="1" fill="#fff" stroke="#000" stroke-width="1.5"/><rect x="-2.5" y="-3.25" width="4.5" height="6.5" fill="none" stroke="#000" stroke-width="1"/></g>
<g transform="translate(1095 288) rotate(-15)"><rect x="-5.0" y="-6.0" width="10" height="12" rx="1" fill="#fff" stroke="#000" stroke-width="1.5"/><rect x="-3.0" y="-3.5" width="5.5" height="7" fill="none" stroke="#000" stroke-width="1"/></g>
<g transform="translate(995.5,239) rotate(22)"><rect x="-12" y="-8" width="24" height="15" rx="2" fill="#fff" stroke="#000" stroke-width="1.6"/><line x1="-4" y1="-8" x2="-4" y2="7" stroke="#000" stroke-width="1.3"/><line x1="4" y1="-8" x2="4" y2="7" stroke="#000" stroke-width="1.3"/><rect x="-2.5" y="-4" width="5" height="9" fill="none" stroke="#000" stroke-width="1"/><rect x="5.5" y="-4" width="5" height="9" fill="none" stroke="#000" stroke-width="1"/><ellipse cx="-8" cy="0" rx="3.5" ry="4.5" fill="none" stroke="#000" stroke-width="1.2"/></g>
<g transform="translate(1356,283) rotate(-8)"><rect x="-13" y="-9" width="26" height="18" rx="2" fill="#fff" stroke="#000" stroke-width="1.6"/><line x1="-4" y1="-9" x2="-4" y2="9" stroke="#000" stroke-width="1.2"/><rect x="-11" y="-5" width="5" height="11" fill="none" stroke="#000" stroke-width="1"/><circle cx="6" cy="2" r="4.5" fill="none" stroke="#000" stroke-width="1.5"/><circle cx="6" cy="2" r="1.8" fill="#000"/></g>
<g transform="translate(1088 562) scale(1.0 1.0)"><path d="M6.9 12.1 L11.1 10.4 L15.2 8.3 L17.3 6.9 L20.1 8.3 L24.2 11.4 L30.1 12.1 L32.9 12.5 L32.9 22.5 L30.1 23.9 L25.6 23.9 L24.2 27 L22.8 30.4 L18 32.5 L14.9 31.1 L10 30.4 L9 27 L6.9 25.3 L6.2 15.6Z" fill="#fff" stroke="#000" stroke-width="2.2" stroke-linejoin="round"/><path d="M8.5 14 L12 16 L13 20 L10.5 23 L9 27" fill="none" stroke="#000" stroke-width="1.8"/><path d="M13.8 16.6 L13.8 29 M16.4 16 L16.4 28.5" fill="none" stroke="#000" stroke-width="2"/><path d="M12 11.8 L17.5 10.5 M14 14 L20 13" fill="none" stroke="#000" stroke-width="1.6"/><ellipse cx="21" cy="21.5" rx="3.6" ry="4.4" fill="none" stroke="#000" stroke-width="2.2"/><path d="M19 15.5 L24 14.5 L25.5 18 M18 29 L23 28" fill="none" stroke="#000" stroke-width="1.6"/><rect x="26" y="13.2" width="6" height="9.8" fill="none" stroke="#000" stroke-width="1.8"/><path d="M28.5 15 L28.5 21" stroke="#000" stroke-width="1.6"/></g>
<g transform="translate(922 445) scale(1.0 1.0)"><path d="M6.9 12.1 L11.1 10.4 L15.2 8.3 L17.3 6.9 L20.1 8.3 L24.2 11.4 L30.1 12.1 L32.9 12.5 L32.9 22.5 L30.1 23.9 L25.6 23.9 L24.2 27 L22.8 30.4 L18 32.5 L14.9 31.1 L10 30.4 L9 27 L6.9 25.3 L6.2 15.6Z" fill="#fff" stroke="#000" stroke-width="2.2" stroke-linejoin="round"/><path d="M8.5 14 L12 16 L13 20 L10.5 23 L9 27" fill="none" stroke="#000" stroke-width="1.8"/><path d="M13.8 16.6 L13.8 29 M16.4 16 L16.4 28.5" fill="none" stroke="#000" stroke-width="2"/><path d="M12 11.8 L17.5 10.5 M14 14 L20 13" fill="none" stroke="#000" stroke-width="1.6"/><ellipse cx="21" cy="21.5" rx="3.6" ry="4.4" fill="none" stroke="#000" stroke-width="2.2"/><path d="M19 15.5 L24 14.5 L25.5 18 M18 29 L23 28" fill="none" stroke="#000" stroke-width="1.6"/><rect x="26" y="13.2" width="6" height="9.8" fill="none" stroke="#000" stroke-width="1.8"/><path d="M28.5 15 L28.5 21" stroke="#000" stroke-width="1.6"/></g>
<g transform="translate(0 0)"><path class="pt" d="M160.8 566 L163 562.5 L169.5 561.5 L253.2 608.5 L254.7 610 L255.4 661.9 L252 663 L244.6 662.6 L160.8 615.7Z" style="stroke-width:1.7"/><path class="pt" d="M164.4 566.6 L247.5 612.8 L254.7 610"/><path class="pt" d="M246 612.8 L246 662" style="stroke-width:1.2"/><path class="pt" d="M162.5 567 L162.5 614.5" style="stroke-width:1.1"/><path class="pt" d="M166.5 574 Q170 572.5 171.5 575 Q172 578 169 578.5 Q172 580 171 582.4 L168 582.6" style="stroke-width:1.4"/><path class="pt" d="M174 582C174.6 580.5 175.8 580.9 177 580.9C178.2 580.9 180.2 580.5 181 582C181.8 583.5 181.7 587.2 181.8 590C181.9 592.8 182.1 597.1 181.5 599C180.9 600.9 179.2 601.2 178 601.3C176.8 601.4 175.2 601.4 174.5 599.5C173.8 597.6 173.6 592.9 173.5 590C173.4 587.1 173.4 583.5 174 582Z" style="stroke-width:1.4"/><path class="pt" d="M181.8 580.5 L186 579.5 L192.8 583 L192.5 591.8 L186 589 L181.8 588" style="stroke-width:1.4"/><path class="pt" d="M184 581 L184 589" style="stroke-width:1.1"/><path class="pt" d="M172.4 604.2C173.6 603.6 177.1 602.5 178.9 603.5C180.7 604.5 181.5 606.9 183 610C184.5 613.1 188 620.8 187.7 622.4C187.4 624 183.4 621.2 181.1 619.5C178.8 617.8 175.6 614.1 174 612C172.4 609.9 171.9 608.3 171.6 607C171.3 605.7 171.2 604.8 172.4 604.2Z" style="stroke-width:1.4"/><path class="pt" d="M184.7 604C185.6 602.4 189.2 599.6 191.3 599.1C193.4 598.6 195.6 599.9 197 601C198.4 602.1 199.3 603.5 199.7 606C200.1 608.5 199.6 613.3 199.5 616C199.4 618.7 199.8 621 199.3 622.4C198.8 623.8 197.6 625.3 196.4 624.6C195.2 623.9 193.7 620.6 192 618C190.3 615.4 187.2 611.3 186 609C184.8 606.7 183.8 605.6 184.7 604Z" style="stroke-width:1.4"/><path class="pt" d="M199.3 592.5 Q203 591.8 204.4 595 Q204 599 200.5 599.8" style="stroke-width:1.4"/><path class="pt" d="M205 607C205.7 605.6 206.5 605.7 208 606.4C209.5 607.1 212.1 608.8 214 611C215.9 613.2 219.3 617.3 219.3 619.5C219.3 621.7 216.1 622.8 214 624C211.9 625.2 208.6 626.8 207 626.8C205.4 626.8 205 626 204.5 624C204 622 203.9 617.8 204 615C204.1 612.2 204.3 608.4 205 607Z" style="stroke-width:1.4"/><path class="pt" d="M206.8 608 L206.8 625" style="stroke-width:1.1"/><path class="pt" d="M211 600 L214 598.4 L224 603 L224 610.8" style="stroke-width:1.4"/><path class="pt" d="M224 611C224.7 609.5 226.8 610.3 228 610.8C229.2 611.3 230.5 611.1 231 614C231.5 616.9 231.5 625.1 231 628C230.5 630.9 229.1 630.9 228 631.1C226.9 631.3 225.2 630.9 224.5 629C223.8 627.1 224.1 623 224 620C223.9 617 223.3 612.5 224 611Z" style="stroke-width:1.4"/><path class="pt" d="M232.8 612.5 Q236 611.2 238 613.5 Q238.5 616 235.5 616.5 Q238.6 618 237.5 620.5 Q235 622 233 621" style="stroke-width:1.4"/><path class="pt" d="M207.3 631.9C208.1 631.2 210.9 629.9 213 629C215.1 628.1 218 626.6 219.7 626.8C221.4 627 221.9 628.8 223 630C224.1 631.2 225.7 632.5 226.2 634C226.7 635.5 226.1 637.5 226 639C225.9 640.5 226.4 642.2 225.5 642.8C224.6 643.4 222.3 643.6 220.4 642.8C218.5 642 216.1 639.6 214 638C211.9 636.4 209.1 634.3 208 633.3C206.9 632.3 206.5 632.6 207.3 631.9Z" style="stroke-width:1.4"/></g>
<g transform="translate(105.9 594)"><ellipse cx="0" cy="0" rx="8" ry="7.8" fill="#fff" stroke="#000" stroke-width="1.8"/><ellipse cx="0" cy="0" rx="4.5" ry="4.2" fill="none" stroke="#000" stroke-width="1.2"/><rect x="1" y="-2" width="4" height="6" fill="#000"/><path d="M7 -4 L18 -6.5 L21 -5 L18 -2 L8 3" fill="#fff" stroke="#000" stroke-width="1.6"/><path d="M11 -4 L12 1 M14 -5 L15 0" stroke="#000" stroke-width="1"/></g>
<g transform="translate(300 584.5)"><path d="M-8.7 -7.7 L-3.5 -9.3 L2.8 -9.3 L8.8 -4.4 L9 6.8 L3.9 7.4 L0.3 8.7 L-3.5 8.2 L-7.6 4.6 L-8.7 -2.2 Z" fill="#fff" stroke="#000" stroke-width="2" stroke-linejoin="round"/><path d="M-4.6 -6.3 L3.6 0.3 L3.6 7.4" fill="none" stroke="#000" stroke-width="2.2"/><path d="M3.6 0.3 L8.5 -1" fill="none" stroke="#000" stroke-width="1.2"/><path d="M1 -8 L6.5 -4.5 L8.5 -4" fill="none" stroke="#000" stroke-width="2.4"/><path d="M-1 5 L-1 0.2 L0.8 0 L1.4 3.5 L-0.5 4" fill="none" stroke="#000" stroke-width="1.9"/></g>
<g transform="translate(259.5 232.4)"><path class="pt" d="M160.8 566 L163 562.5 L169.5 561.5 L253.2 608.5 L254.7 610 L255.4 661.9 L252 663 L244.6 662.6 L160.8 615.7Z" style="stroke-width:1.7"/><path class="pt" d="M164.4 566.6 L247.5 612.8 L254.7 610"/><path class="pt" d="M246 612.8 L246 662" style="stroke-width:1.2"/><path class="pt" d="M162.5 567 L162.5 614.5" style="stroke-width:1.1"/><path class="pt" d="M166.5 574 Q170 572.5 171.5 575 Q172 578 169 578.5 Q172 580 171 582.4 L168 582.6" style="stroke-width:1.4"/><path class="pt" d="M174 582C174.6 580.5 175.8 580.9 177 580.9C178.2 580.9 180.2 580.5 181 582C181.8 583.5 181.7 587.2 181.8 590C181.9 592.8 182.1 597.1 181.5 599C180.9 600.9 179.2 601.2 178 601.3C176.8 601.4 175.2 601.4 174.5 599.5C173.8 597.6 173.6 592.9 173.5 590C173.4 587.1 173.4 583.5 174 582Z" style="stroke-width:1.4"/><path class="pt" d="M181.8 580.5 L186 579.5 L192.8 583 L192.5 591.8 L186 589 L181.8 588" style="stroke-width:1.4"/><path class="pt" d="M184 581 L184 589" style="stroke-width:1.1"/><path class="pt" d="M172.4 604.2C173.6 603.6 177.1 602.5 178.9 603.5C180.7 604.5 181.5 606.9 183 610C184.5 613.1 188 620.8 187.7 622.4C187.4 624 183.4 621.2 181.1 619.5C178.8 617.8 175.6 614.1 174 612C172.4 609.9 171.9 608.3 171.6 607C171.3 605.7 171.2 604.8 172.4 604.2Z" style="stroke-width:1.4"/><path class="pt" d="M184.7 604C185.6 602.4 189.2 599.6 191.3 599.1C193.4 598.6 195.6 599.9 197 601C198.4 602.1 199.3 603.5 199.7 606C200.1 608.5 199.6 613.3 199.5 616C199.4 618.7 199.8 621 199.3 622.4C198.8 623.8 197.6 625.3 196.4 624.6C195.2 623.9 193.7 620.6 192 618C190.3 615.4 187.2 611.3 186 609C184.8 606.7 183.8 605.6 184.7 604Z" style="stroke-width:1.4"/><path class="pt" d="M199.3 592.5 Q203 591.8 204.4 595 Q204 599 200.5 599.8" style="stroke-width:1.4"/><path class="pt" d="M205 607C205.7 605.6 206.5 605.7 208 606.4C209.5 607.1 212.1 608.8 214 611C215.9 613.2 219.3 617.3 219.3 619.5C219.3 621.7 216.1 622.8 214 624C211.9 625.2 208.6 626.8 207 626.8C205.4 626.8 205 626 204.5 624C204 622 203.9 617.8 204 615C204.1 612.2 204.3 608.4 205 607Z" style="stroke-width:1.4"/><path class="pt" d="M206.8 608 L206.8 625" style="stroke-width:1.1"/><path class="pt" d="M211 600 L214 598.4 L224 603 L224 610.8" style="stroke-width:1.4"/><path class="pt" d="M224 611C224.7 609.5 226.8 610.3 228 610.8C229.2 611.3 230.5 611.1 231 614C231.5 616.9 231.5 625.1 231 628C230.5 630.9 229.1 630.9 228 631.1C226.9 631.3 225.2 630.9 224.5 629C223.8 627.1 224.1 623 224 620C223.9 617 223.3 612.5 224 611Z" style="stroke-width:1.4"/><path class="pt" d="M232.8 612.5 Q236 611.2 238 613.5 Q238.5 616 235.5 616.5 Q238.6 618 237.5 620.5 Q235 622 233 621" style="stroke-width:1.4"/><path class="pt" d="M207.3 631.9C208.1 631.2 210.9 629.9 213 629C215.1 628.1 218 626.6 219.7 626.8C221.4 627 221.9 628.8 223 630C224.1 631.2 225.7 632.5 226.2 634C226.7 635.5 226.1 637.5 226 639C225.9 640.5 226.4 642.2 225.5 642.8C224.6 643.4 222.3 643.6 220.4 642.8C218.5 642 216.1 639.6 214 638C211.9 636.4 209.1 634.3 208 633.3C206.9 632.3 206.5 632.6 207.3 631.9Z" style="stroke-width:1.4"/></g>
<g transform="translate(365.4 826.6)"><ellipse cx="0" cy="0" rx="8" ry="7.8" fill="#fff" stroke="#000" stroke-width="1.8"/><ellipse cx="0" cy="0" rx="4.5" ry="4.2" fill="none" stroke="#000" stroke-width="1.2"/><rect x="1" y="-2" width="4" height="6" fill="#000"/><path d="M7 -4 L18 -6.5 L21 -5 L18 -2 L8 3" fill="#fff" stroke="#000" stroke-width="1.6"/><path d="M11 -4 L12 1 M14 -5 L15 0" stroke="#000" stroke-width="1"/></g>
<g transform="translate(562 817)"><path d="M-8.7 -7.7 L-3.5 -9.3 L2.8 -9.3 L8.8 -4.4 L9 6.8 L3.9 7.4 L0.3 8.7 L-3.5 8.2 L-7.6 4.6 L-8.7 -2.2 Z" fill="#fff" stroke="#000" stroke-width="2" stroke-linejoin="round"/><path d="M-4.6 -6.3 L3.6 0.3 L3.6 7.4" fill="none" stroke="#000" stroke-width="2.2"/><path d="M3.6 0.3 L8.5 -1" fill="none" stroke="#000" stroke-width="1.2"/><path d="M1 -8 L6.5 -4.5 L8.5 -4" fill="none" stroke="#000" stroke-width="2.4"/><path d="M-1 5 L-1 0.2 L0.8 0 L1.4 3.5 L-0.5 4" fill="none" stroke="#000" stroke-width="1.9"/></g>
<path class="pt" d="M655.5 568.6 L662 568.2 L687.4 566.5 L704.6 567.4 L707.1 574.7 L712 575.2 L715.3 580.5 L714.9 601.8 L708.7 608.3 L703 612.4 L694 616.5 L684.1 623.9 L667 635.3 L662 641.9 L655.5 637.8 L654.7 631.3 L648.1 632.9 L644.4 622.2 L645.2 584.6 L652.2 573.1Z" style="stroke-width:1.8"/>
<path class="pt" d="M653 574C652.5 576.7 650.3 584 650 590C649.7 596 650.3 603.3 651 610C651.7 616.7 653.5 626.7 654 630"/>
<path class="pt" d="M657 572C656.8 575.8 655.7 587.8 656 595C656.3 602.2 658 607.3 659 615C660 622.7 661.5 636.7 662 641"/>
<path class="pt" d="M661 575 L688 570 L705 573"/>
<path class="pt" d="M661 585 L695 577 L710 576"/>
<path class="pt" d="M662 590 L710 580"/>
<path class="pt" d="M662 598 L705 589 L712 589"/>
<path class="pt" d="M662 604 L673 600 L679 603 L673 615"/>
<path class="pt" d="M694 587 L694 615"/>
<path class="pt" d="M684 591 L678 612 L668 619"/>
<path class="pt" d="M666 621 L668 640"/>
<path class="pt" d="M661 616 L659 638"/>
<path class="pt" d="M706 592 L706 606"/>
<path class="pt" d="M712 592 L712 604"/>
<text x="668" y="615" font-size="7" font-family="Liberation Sans" fill="#000">3D</text>
<path class="pt" d="M451.5 688.6 L450.5 699.1 L451.9 711.5 L459.1 724.9 L473.4 742.1 L487.8 754.5 L501.1 767.9 L511.6 769.8" style="stroke-width:1.6"/>
<path class="pt" d="M451.5 705.8 L461 723 L478.2 742.1 L499.2 763.1 L510.7 767.9"/>
<path class="pt" d="M451.5 688.6 L467.7 702.9 L469.6 708.7 L474.4 723 L483.9 725.8 L489.7 740.2 L500.2 743 L505.9 759.3 L517.4 763.1 L520.2 773.6 L515.5 778.4 L511.6 775.5" style="stroke-width:1.6"/>
<path class="pt" d="M454 695 L462 707"/>
<path class="pt" d="M459 708 L463 720"/>
<path class="pt" d="M468 720 L476 733"/>
<path class="pt" d="M481 737 L491 751"/>
<path class="pt" d="M495 754 L503 762"/>
<path class="pt" d="M458 708 L469 708" style="stroke-width:2.2"/>
<path class="pt" d="M660.5 813.7 L675 818.8 L675.8 822.4 L671.7 832.8 L666.2 833.9 L660.2 832.2 L653.1 830 L652.6 826.8 L656.4 818Z" style="stroke-width:1.8"/>
<path class="pt" d="M672 823 L677.5 826 L676.5 832.5 L671.5 833" style="stroke-width:1.5"/>
<path class="pt" d="M663 835 L664 841 L667 843 L670.5 843 L670.5 836" style="stroke-width:2"/>
<path class="pt" d="M669 824 L666 834"/>
<path class="pt" d="M774.6 928.2 L779.1 920.6 L784.2 918.7 L787.4 920.6 L790.6 926.9 L802 930.8 L803.3 924.4 L808.4 923.4 L814.1 924.4 L817.3 935.9 L833.9 941 L835.2 935.9 L840.3 933.9 L846.6 935.9 L850.4 947.3 L868.3 952.4 L872.1 944.8 L892.5 944.8 L909 952.4 L907.8 958.8 L900.1 966.4 L889.9 968.3 L882.3 963.9 L874.6 966.4 L869.6 962.6" style="stroke-width:1.6"/>
<path class="pt" d="M774.6 928.2 L777.8 929.5 L869.6 962.6" style="stroke-width:1.6"/>
<path class="pt" d="M779.1 924.4 L788 926.9 L898.9 963.9"/>
<path class="pt" d="M804.6 941 L811 944.8 L816.1 943.5"/>
<path class="pt" d="M836.4 953.7 L842.8 957.5 L850.4 955"/>
<path class="pt" d="M869.6 948.6 L872.1 956.2 L882.3 961.3"/>
<path class="pt" d="M879.7 949.9 L887.4 958.8"/>
<path class="pt" d="M803.3 924.4 L805.9 934.6"/>
<path class="pt" d="M835.2 935.9 L839 946.1"/>
<path class="pt" d="M1201.4 953.1C1202.3 952.8 1201.9 951.8 1206.7 951.2C1211.5 950.6 1223.2 950.8 1230 949.7C1236.8 948.6 1241.4 945.7 1247.3 944.8C1253.2 943.9 1262.4 944.5 1265.4 944.4" style="stroke-width:1.6"/>
<path class="pt" d="M1271.5 950.1C1272.2 950.8 1274.5 952.4 1276 954C1277.5 955.6 1279.8 958.9 1280.5 959.9" style="stroke-width:1.6"/>
<path class="pt" d="M1282.8 976C1283 976.8 1283.5 979 1284 981C1284.5 983 1285.9 985.4 1285.8 987.8C1285.7 990.2 1285 993.4 1283.5 995.3C1282 997.2 1280.6 998.1 1276.7 999.1C1272.8 1000.1 1265.7 1000.9 1260 1001.5C1254.3 1002.1 1252 1002.7 1242.8 1002.8C1233.6 1002.9 1212.2 1002.1 1205.1 1002.1C1197.9 1002.1 1203 1003.9 1199.9 1002.8C1196.8 1001.7 1189.3 997.5 1186.3 995.3C1183.3 993 1182.4 990.8 1181.8 989.3C1181.2 987.8 1181.1 988.6 1182.5 986.2C1183.9 983.8 1188.1 977.6 1190.1 975C1192.1 972.4 1193.8 971.2 1194.6 970.4" style="stroke-width:1.6"/>
<path class="pt" d="M1182.5 990C1183.8 990.7 1186.2 992.8 1190 994C1193.8 995.2 1196.3 996.8 1205.1 997.5C1213.9 998.2 1232.8 998.5 1242.8 998.3C1252.8 998.1 1259.3 997.1 1265 996.5C1270.7 995.9 1274.1 995.7 1276.7 994.5C1279.3 993.3 1279.9 990.2 1280.5 989.3" style="stroke-width:1.6"/>
<path class="pt" d="M1189.5 968.9 L1189.3 955 L1193 953.1 L1201.4 953.1 L1200 962 L1196 968.9Z" style="stroke-width:1.6"/>
<path class="pt" d="M1192 958 L1198 958"/>
<path class="pt" d="M1192 963 L1197 963"/>
<path class="pt" d="M1264.7 952.3 L1264.7 946 L1266 944 L1270 944 L1271.5 947 L1271.5 952.3" style="stroke-width:1.6"/>
<path class="pt" d="M1206.7 954.6C1210.6 954.7 1220.2 955.2 1230 955C1239.8 954.8 1259.5 953.4 1265.4 953.1" style="stroke-width:1.6"/>
<path class="pt" d="M1201.4 965.1C1206.2 965.4 1221.8 966.5 1230 967C1238.2 967.5 1245.1 967 1250.4 968.2C1255.7 969.4 1258.6 972 1262 974C1265.4 976 1269.2 979.2 1270.7 980.2" style="stroke-width:1.6"/>
<path class="pt" d="M1230 950.8C1233.4 951.9 1244.9 955.6 1250.4 957.6C1255.9 959.6 1259.4 960.9 1263 963C1266.6 965.1 1268.8 966.5 1272 970C1275.2 973.5 1280.3 981.7 1282 984" style="stroke-width:1.6"/>
<path class="pt" d="M1237 951.5C1240.5 952.9 1252.4 957.6 1257.9 959.9C1263.4 962.1 1267 963.9 1270 965C1273 966.1 1276.7 966.3 1276 966.7C1275.3 967.1 1267.7 967.4 1266 967.5" style="stroke-width:1.3"/>
<path class="pt" d="M1268 952C1269.2 953 1273 956 1275 958C1277 960 1279.2 963 1280 964" style="stroke-width:1.3"/>
<path d="M1279 961.4 L1287 961.6 L1290.5 966 L1291 971 L1286 972.7 L1281.5 972.5" fill="#fff" stroke="#000" stroke-width="1.5"/><ellipse cx="1283.8" cy="968" rx="2.2" ry="1.8" fill="none" stroke="#000" stroke-width="1.2"/>
<path class="pt" d="M1279.5 962 L1280.2 975 L1282.8 976" style="stroke-width:1.6"/>
<path class="pt" d="M1199 1002.5 L1200 1004.5 L1204 1004.5" style="stroke-width:1.5"/>
<path class="pt" d="M1239 1003.5 L1243 1005.5 L1248 1003.5" style="stroke-width:1.8"/>
<path class="pt" d="M1280 988 L1279.8 981" style="stroke-width:1.4"/>
<g transform="translate(1220.6,922)"><ellipse cx="0" cy="0" rx="5.5" ry="7" fill="#fff" stroke="#000" stroke-width="1.7"/><ellipse cx="7" cy="-1" rx="2.5" ry="7" fill="#fff" stroke="#000" stroke-width="1.5"/><path d="M-4 -1 L-15 2 L-17 5 L-14 6 L-3 5" fill="#fff" stroke="#000" stroke-width="1.6"/></g>
<path d="M1103 955 L1103 942 L1109.5 940.5 L1122.6 947.4 L1123 962.6 L1119 964 L1116.8 961.5" fill="#fff" stroke="#000" stroke-width="2" stroke-linejoin="round"/>
<path d="M1104 943.5 L1109 941.8 L1120 948 M1104 946 L1108 945" fill="none" stroke="#000" stroke-width="2"/>
<rect x="1112.5" y="948.8" width="4.3" height="18.6" fill="#000"/>
<path d="M1114.6 950.5 V965.5" stroke="#fff" stroke-width="1" stroke-dasharray="1.5 1.5"/>
<rect x="1110.4" y="949.5" width="1.8" height="11.7" fill="#000"/>
<ellipse cx="1103" cy="954.3" rx="3.8" ry="6" fill="#fff" stroke="#000" stroke-width="2"/>
<path d="M1102 952 L1104 951.5 L1104.5 955.5 L1102.5 956" fill="none" stroke="#000" stroke-width="1.5"/>
<path class="pt" d="M888.3 459.6C885.8 459.8 877.4 459.5 873.3 460.9C869.2 462.2 866.9 465.3 863.7 467.7C860.5 470.1 856.6 473.8 854.1 475.2C851.6 476.6 850.4 476.4 848.7 476.2C847 476 844.7 474.3 843.9 473.9" style="stroke-width:1.25"/>
<path class="pt" d="M843.9 473.9C842.6 474.9 840.8 475.6 836.4 480C832 484.4 823.2 493.7 817.3 500.5C811.4 507.3 807 512.6 800.9 521C794.8 529.4 784.8 543.5 780.5 551C776.2 558.5 776.1 559.5 775 566C773.9 572.5 773.8 582.4 773.6 590C773.4 597.6 773.3 606.1 773.7 611.8C774.1 617.5 774.8 620.4 776 624C777.2 627.6 780.2 632 781 633.6" style="stroke-width:1.25"/>
<path class="pt" d="M888.3 459.6C888.4 460.2 889.2 461.9 889 463C888.8 464.1 888.4 465.7 886.9 466.5C885.4 467.3 881.1 467.5 880 467.7" style="stroke-width:1.25"/>
<path class="pt" d="M880 467.7C878 468.4 871.7 470.1 868 472C864.3 473.9 860.8 477.5 858 479C855.2 480.5 853.2 481.1 851 481C848.8 480.9 846 478.9 845 478.5" style="stroke-width:1.25"/>
<path class="pt" d="M845 478.5C843.7 479.8 839.8 483.4 837 486C834.2 488.6 831.7 490.3 828.2 494C824.7 497.7 819.2 504 816 508C812.8 512 810.6 514.9 809 518C807.4 521.1 806.8 522.7 806.4 526.4C806 530.1 806.1 535.7 806.5 540C806.9 544.3 807.6 548.4 809 552C810.4 555.6 812.3 559.4 814.6 561.9C816.9 564.4 820.8 565.5 822.8 567.3C824.8 569.1 826.4 570.5 826.9 572.8C827.4 575.1 826 580.1 825.5 581C825 581.9 825.2 579 824 578C822.8 577 820.2 577 818 575C815.8 573 813 569.2 811 566C809 562.8 807.2 560.3 806 556C804.8 551.7 803.8 545.7 803.5 540C803.2 534.3 803.9 525 804 522" style="stroke-width:1.25"/>
<path class="pt" d="M880 467.7C878.7 469.4 874.5 474.4 872 478C869.5 481.6 867.9 484.5 865.1 489.6C862.4 494.7 858 503.7 855.5 508.7C853 513.7 851 517.8 850.1 519.6" style="stroke-width:1.25"/>
<path class="pt" d="M877.3 466.4C875.4 469 869.2 477 866 482C862.8 487 860.7 491.4 858.2 496.4C855.7 501.4 852.2 509.4 851 512" style="stroke-width:1.25"/>
<path class="pt" d="M837.8 506 L839.5 503.5 L842.5 504 L850.1 514.1 L856 518.5 L867.8 523.5 L866 526.5 L859 527 L855 532 L851 536" style="stroke-width:1.25"/>
<path class="pt" d="M842 512 L846 514"/>
<path class="pt" d="M837.8 506C837.2 509.2 835.1 518.4 834 525C832.9 531.6 832 537.2 831 545.5C830 553.8 828.7 565.9 828 575C827.3 584.1 826.9 592.2 826.9 600C826.9 607.8 827 616 828 622C829 628 831 632.5 833 636C835 639.5 836.6 640 840 643C843.4 646 851 652.4 853.2 654.3" style="stroke-width:1.25"/>
<path class="pt" d="M844 528C843.2 532.5 840.3 545.5 839 555C837.7 564.5 836.8 575.5 836.4 585C836 594.5 836.2 605.2 836.5 612C836.8 618.8 837.1 622.3 838 626C838.9 629.7 837 629.1 842 634C847 638.9 857.6 648.2 868.3 655.2C879 662.2 893.4 669.7 906 676C918.6 682.3 933.8 688.5 943.7 692.9C953.6 697.3 960.7 700.6 965.4 702.4C970.1 704.2 970.9 703.3 972 703.5" style="stroke-width:1.25"/>
<path class="pt" d="M849 535C848.2 538.3 845.2 546.7 844 555C842.8 563.3 841.9 575.8 841.5 585C841.1 594.2 841.5 602.7 841.9 610C842.3 617.3 841 623.7 843.8 628.9C846.6 634.1 851.7 635.9 858.9 641.1C866.1 646.3 876.1 653.9 887.1 660C898.1 666.1 912.2 672.4 924.8 677.9C937.4 683.4 954.6 689.7 962.5 692.9C970.4 696.1 970.4 696.3 972 697" style="stroke-width:1.25"/>
<path class="pt" d="M851.5 537C851.2 540.8 850.4 551.2 850 560C849.6 568.8 849.5 581.7 849.4 590C849.3 598.3 848.6 604.6 849.4 610C850.2 615.4 851.6 618.4 854.1 622.3C856.6 626.2 859 629 864.5 633.6C870 638.2 877.5 643.3 887.1 649.6C896.7 655.9 910.2 665.3 922 671.3C933.8 677.3 948.8 681.6 957.8 685.4C966.8 689.2 972.7 692.5 975.7 693.9" style="stroke-width:1.25"/>
<path class="pt" d="M907.9 679.7 L934.2 692.9" style="stroke-width:1.25"/>
<path class="pt" d="M972 703.5C975 702.4 984.5 700.1 990 697C995.5 693.9 999.2 689.8 1005 685C1010.8 680.2 1019.2 673.7 1025 668C1030.8 662.3 1036.8 655 1040 651C1043.2 647 1043.3 645.2 1044 644" style="stroke-width:1.25"/>
<path class="pt" d="M972 697C974.7 696 982 694.2 988 691C994 687.8 1001.3 683 1008 678C1014.7 673 1022.2 666.5 1028 661C1033.8 655.5 1040.5 647.7 1043 645" style="stroke-width:1.1"/>
<path class="pt" d="M975.7 693.9C978.1 692.9 984.3 691.1 990 688C995.7 684.9 1003.3 680 1010 675C1016.7 670 1024.6 663.7 1030 658C1035.4 652.3 1040.4 643.8 1042.5 641" style="stroke-width:1.25"/>
<path class="pt" d="M857 626C859.2 627.7 864.8 632.3 870 636C875.2 639.7 885 646 888 648" style="stroke-width:1.1"/>
<path class="pt" d="M924 674.5C927.5 675.9 937.7 680.1 945 683C952.3 685.9 964.2 690.5 968 692" style="stroke-width:1.1"/>
<path class="pt" d="M855 625 L856.5 629" style="stroke-width:1.3"/>
<path class="pt" d="M882 645 L883.5 649" style="stroke-width:1.3"/>
<path class="pt" d="M922 672 L923.5 676" style="stroke-width:1.3"/>
<path class="pt" d="M962 689 L963.5 693" style="stroke-width:1.3"/>
<path class="pt" d="M1043 643 L1042.5 632 L1048 629 L1056 629.5 L1058.8 633 L1058.8 642.2 L1053 644 L1046 644Z" style="stroke-width:1.25"/>
<path class="pt" d="M1044.5 632.5 L1050 635 L1058 633" style="stroke-width:1.1"/>
<path class="pt" d="M1058.8 642.2 L1072 645 L1093.1 648.8 L1031.1 696 L1031.5 700.8" style="stroke-width:1.25"/>
<path class="pt" d="M1031.5 700.8C1036.2 701.5 1050.4 703.8 1060 705C1069.6 706.2 1075.5 707.2 1089.2 708.2C1102.9 709.2 1126.5 711.7 1141.9 710.8C1157.3 709.9 1170.8 705.7 1181.5 702.9C1192.2 700.1 1199.8 696.2 1206 694C1212.2 691.8 1216.3 690.4 1218.4 689.7" style="stroke-width:1.25"/>
<path class="pt" d="M1218.4 689.7C1219.7 690.5 1223.3 693.2 1226 694.5C1228.7 695.8 1229.5 696.8 1234.3 697.6C1239.1 698.4 1248.4 699.3 1255 699.5C1261.6 699.7 1269.7 699.6 1273.9 698.9C1278.1 698.1 1279 695.6 1280 695" style="stroke-width:1.25"/>
<ellipse cx="1285" cy="692.3" rx="6" ry="3.2" fill="none" stroke="#000" stroke-width="1.5"/>
<path class="pt" d="M1290 692 L1298.9 692.3" style="stroke-width:1.25"/>
<path class="pt" d="M1298.9 692.3C1296.6 694.4 1289.2 699.7 1285 705C1280.8 710.3 1278.2 716.8 1273.9 724C1269.6 731.2 1263.4 740.1 1259 748C1254.6 755.9 1250.7 762.8 1247.5 771.5C1244.3 780.2 1241.8 791.2 1240 800C1238.2 808.8 1237.4 813.6 1236.9 824.3C1236.4 834.9 1237.8 856.2 1236.9 863.9C1236 871.6 1232.5 869.3 1231.6 870.4" style="stroke-width:1.25"/>
<path class="pt" d="M1282 696C1279.3 699.7 1270.9 710.7 1266 718C1261.1 725.3 1256.9 732.5 1252.7 739.8C1248.5 747.1 1244.1 754.5 1241 762C1237.9 769.5 1236.2 775.9 1234.3 784.7C1232.4 793.5 1230.6 804 1229.5 815C1228.4 826 1228 844.8 1227.7 850.7" style="stroke-width:1.25"/>
<path class="pt" d="M1231.6 870.4C1226.3 870.3 1210.5 870.2 1200 870C1189.5 869.8 1180 869.9 1168.3 869.1C1156.6 868.3 1143.2 866.8 1130 865C1116.8 863.2 1103.3 862 1089.2 858.6C1075.1 855.2 1060.5 849.6 1045.6 844.8C1030.7 840 1014.8 835.1 1000 830C985.2 824.9 972.1 820.9 956.8 814.2C941.5 807.5 923.1 797.5 908.4 790C893.7 782.5 879.8 775.8 868.8 768.9C857.8 762 846.5 752 842.1 748.6" style="stroke-width:1.25"/>
<path class="pt" d="M1044.3 841.4C1051.9 843 1073.7 848.4 1090 851C1106.3 853.6 1123.6 856.1 1141.9 857.3C1160.2 858.5 1184.2 858 1200 858C1215.8 858 1230.8 857.4 1236.9 857.3" style="stroke-width:1.25"/>
<path class="pt" d="M934.7 701.6C940.6 704 957.5 711.4 970 716C982.5 720.6 995 725 1010 729.3C1025 733.6 1045.5 738.5 1060 742C1074.5 745.5 1083.3 748.5 1097 750.4C1110.7 752.3 1129.7 753.4 1141.9 753.5C1154.1 753.6 1161.2 752.4 1170 751C1178.8 749.6 1181.6 747.8 1194.7 745.1C1207.8 742.4 1239.8 736.4 1248.8 734.6" style="stroke-width:1.25"/>
<path class="pt" d="M978.4 713.2 L1000 708 L1027.6 700.6" style="stroke-width:1.25"/>
<path class="pt" d="M783.2 553.7C783.3 558 783.4 574.2 783.9 579.6C784.4 585 785 584.3 786 586C787 587.7 786.4 586 789.7 590C793 594 800.4 603.5 806 610C811.6 616.5 817.9 624 823.2 629.3C828.5 634.6 833.1 637.9 838 642C842.9 646.1 849.9 652 852.3 654" style="stroke-width:1.25"/>
<path class="pt" d="M781 633.6C782.5 635.2 785.4 638.1 790 643C794.6 647.9 801.1 654.6 808.6 662.7C816.1 670.8 828.6 684.9 834.8 691.8C841 698.7 844.1 702 846 704" style="stroke-width:1.25"/>
<path class="pt" d="M782.5 636.6C781.7 638 778.5 641.9 777.5 645C776.5 648.1 776.5 650.6 776.6 655C776.7 659.4 776.9 665.4 778.1 671.5C779.3 677.6 780.3 685.5 783.9 691.8C787.5 698.1 793.9 703.3 799.9 709.3C805.9 715.3 813 721.5 820 728C827 734.5 838.4 745.2 842.1 748.6" style="stroke-width:1.25"/>
<path class="pt" d="M785.4 638C785.5 640 786 646.4 786.2 650C786.4 653.6 785.5 655.2 786.8 659.8C788.1 664.3 789.4 670.6 794.1 677.3C798.8 684 806.3 692.2 815 700C823.7 707.8 841.2 719.9 846.5 723.9" style="stroke-width:1.25"/>
<path class="pt" d="M827.6 635C828 637.8 829.1 646.2 830 652C830.9 657.8 832 663.4 833 670C834 676.6 834.6 684.3 836.3 691.8C838 699.3 840.6 707.2 843 715C845.4 722.8 849.5 734.5 850.8 738.4" style="stroke-width:1.25"/>
<path class="pt" d="M801.4 683.1 L846.5 723.9" style="stroke-width:1.25"/>
<path class="pt" d="M801.4 691.8 L850.8 738.4" style="stroke-width:1.25"/>
<path class="pt" d="M813 705 L840 726" style="stroke-width:1.25"/>
<path d="M782.5 637 Q780.5 645 781.5 654 Q782 659.5 779.5 659.5" fill="none" stroke="#000" stroke-width="1.3"/>
<path class="pt" d="M970.4 721.2C968.7 722.2 963.4 724.4 960.3 727.2C957.2 730 954.4 734.5 952 738C949.6 741.5 947.9 744.6 946.2 748.3C944.5 752 943.7 755.5 942 760C940.3 764.5 937.4 771.2 936 775C934.6 778.8 933.8 781 933.5 783C933.2 785 933.6 786 934 787C934.4 788 933.3 787.9 936 789.1C938.7 790.3 944.4 792 950.1 794.2C955.8 796.4 966.9 800.9 970.2 802.2" style="stroke-width:1.25"/>
<path class="pt" d="M949.1 760C953.1 761.7 964.7 766.8 973.2 770C981.8 773.2 990.9 776.1 1000.4 779.1C1009.9 782.1 1020.5 785.2 1030.5 788.1C1040.5 791 1050.8 793.9 1060.7 796.2C1070.6 798.6 1085.1 801.2 1090 802.2" style="stroke-width:1.25"/>
<path class="pt" d="M946.1 779.1C946.3 780.1 945.6 783.6 947.1 785.1C948.6 786.6 951.3 786.7 955.1 788.1C958.9 789.5 965.3 791.8 970 793.5C974.7 795.2 981.1 797.4 983.3 798.2" style="stroke-width:1.25"/>
<path class="pt" d="M994.3 803.2C997.2 804.2 1006 807.1 1012 809C1018 810.9 1024.1 812.6 1030.5 814.3C1036.9 816 1043.1 818.6 1050.6 819.3C1058.1 820 1070.1 819.3 1075.7 818.3C1081.3 817.2 1081.6 815.2 1084 813C1086.4 810.8 1089 806.5 1090 805.2" style="stroke-width:1.25"/>
<path class="pt" d="M1000 830C1001.7 830.4 1001.7 829.7 1010 832.2C1018.3 834.7 1036.8 840.6 1050 845C1063.2 849.4 1082.7 856.3 1089.2 858.6" style="stroke-width:1"/>
<path class="pt" d="M966.2 775.1C967 773.8 969.7 770 973.2 770C976.7 770 982.5 773.3 987 775C991.5 776.7 997.8 778.4 1000.4 780.1C1003 781.8 1003.8 783.8 1002.4 785.1C1001 786.4 996 788.4 992.3 788.1C988.6 787.8 984 785.2 980 783.5C976 781.8 970.5 779.5 968.2 778.1C965.9 776.7 965.4 776.5 966.2 775.1Z" style="stroke-width:1.25"/>
<path class="pt" d="M1003.6 780.3 L1007.2 781 L1007.2 792.2 L1004.2 792" style="stroke-width:1.25"/>
<path class="pt" d="M1015.5 791.8 L1018 790 L1031 791.5 L1034.5 795.5 L1033 798.4 L1019 797.6" style="stroke-width:1.25"/>
<path class="pt" d="M1037.5 791.5C1039.7 790.6 1045.8 793.8 1050 795C1054.2 796.2 1060.2 797.5 1063 798.5C1065.8 799.5 1065.9 799.4 1066.5 801C1067.1 802.6 1068.6 807.1 1066.7 808.2C1064.8 809.3 1059.1 808.3 1055 807.5C1050.9 806.7 1045 804.7 1042 803.5C1039 802.3 1037.5 802.5 1036.8 800.5C1036 798.5 1035.3 792.4 1037.5 791.5Z" style="stroke-width:1.25"/>
<path class="pt" d="M1070 800.4C1071.3 798.7 1076 800.5 1078 801.5C1080 802.5 1081.6 804.7 1081.8 806.5C1082 808.3 1080.9 811.5 1079 812.3C1077.1 813.1 1071.7 813.5 1070.2 811.5C1068.7 809.5 1068.7 802.1 1070 800.4Z" style="stroke-width:1.25"/>
<path class="pt" d="M1072.5 801 L1072.5 811.5" style="stroke-width:1.1"/>
<path class="pt" d="M980.3 807.2 L1001.4 814.3" style="stroke-width:1.25"/>
<path class="pt" d="M930 802.2 L946.1 809.2" style="stroke-width:1.25"/>
<path class="pt" d="M1089 803.2C1091.5 803.6 1095.2 804.8 1104 805.4C1112.8 806 1133 805.9 1141.8 806.7C1150.6 807.5 1152 808.4 1156.7 810.2C1161.4 812 1166 814.5 1170 817.3C1174 820.1 1178.3 824.1 1180.5 826.9C1182.7 829.7 1182.7 832.8 1183.1 834" style="stroke-width:1.25"/>
<path class="pt" d="M1078.5 829.6C1082.8 830.2 1093.9 832.2 1104 833.1C1114.1 834 1126 834.8 1139.2 834.9C1152.4 835 1175.8 834.1 1183.1 834" style="stroke-width:1.25"/>
<path class="pt" d="M1078.5 831.3C1080.4 831.8 1084.3 833 1090 834C1095.7 835 1103.1 836.5 1112.8 837.5C1122.5 838.5 1136.6 840 1148 840.1C1159.4 840.2 1175.6 838.9 1181.4 837.9C1187.2 836.9 1182.8 834.6 1183.1 834" style="stroke-width:1.25"/>
<path class="pt" d="M1078.5 829.6C1078.7 828.9 1078.4 827.4 1079.5 825.5C1080.6 823.6 1082.8 821.2 1085 818C1087.2 814.8 1091.2 808 1092.5 806" style="stroke-width:1.25"/>
<path class="pt" d="M1087.3 827.8C1088.1 826.5 1090.5 822.5 1092 820C1093.5 817.5 1094.7 815.4 1096 813C1097.3 810.6 1099 806.7 1099.6 805.4" style="stroke-width:1.25"/>
<path d="M778.5 578.8 q3 -1 3 3 q0 4 -3 4" fill="none" stroke="#000" stroke-width="1.4"/>
<path d="M824.5 636.1 q3 -1 3 3 q0 4 -3 4" fill="none" stroke="#000" stroke-width="1.4"/>
<path d="M969.7 723.2 q3 -1 3 3 q0 4 -3 4" fill="none" stroke="#000" stroke-width="1.4"/>
<path d="M1213.5 750.8 q-3 -1 -3 3 q0 4 3 4" fill="none" stroke="#000" stroke-width="1.4"/>
<path d="M852 686.5 q3 -1 3 3 q0 4 -3 4" fill="none" stroke="#000" stroke-width="1.4"/>
<path d="M1089 756.5 q4 0 4 4 q0 4 -4 4 M1089 756.5 v8" fill="none" stroke="#000" stroke-width="1.4"/>
<path class="pt" d="M980 733 L983 735 L987 733 L989 738 L988 746 L984 749 L978 746" style="stroke-width:1.3"/>
<path class="pt" d="M918.5 722.5 L919.5 726" style="stroke-width:1.4"/>
<rect x="1589.8" y="0" width="1.4" height="1.2" fill="#000"/>
<rect x="45" y="530" width="351" height="238" fill="none" stroke="#000" stroke-width="1.6"/>
<rect x="746.5" y="428.5" width="562" height="464" fill="none" stroke="#000" stroke-width="1.6"/>
<path d="M212.1 728.2H304.9V764.6H212.1ZM217.9 732.8V760.2H299.2V732.8Z" fill="#2d4452" fill-rule="evenodd"/>
<path d="M426.1 954.1H518.0V989.9H426.1ZM431.9 958.9V985.1H512.2V958.9Z" fill="#2d4452" fill-rule="evenodd"/>
<path class="ln" d="M253.5 720.6 L253.5 735"/>
<path class="ln" d="M467.7 876.3 L467.7 962.5"/>
</svg></body></html>
